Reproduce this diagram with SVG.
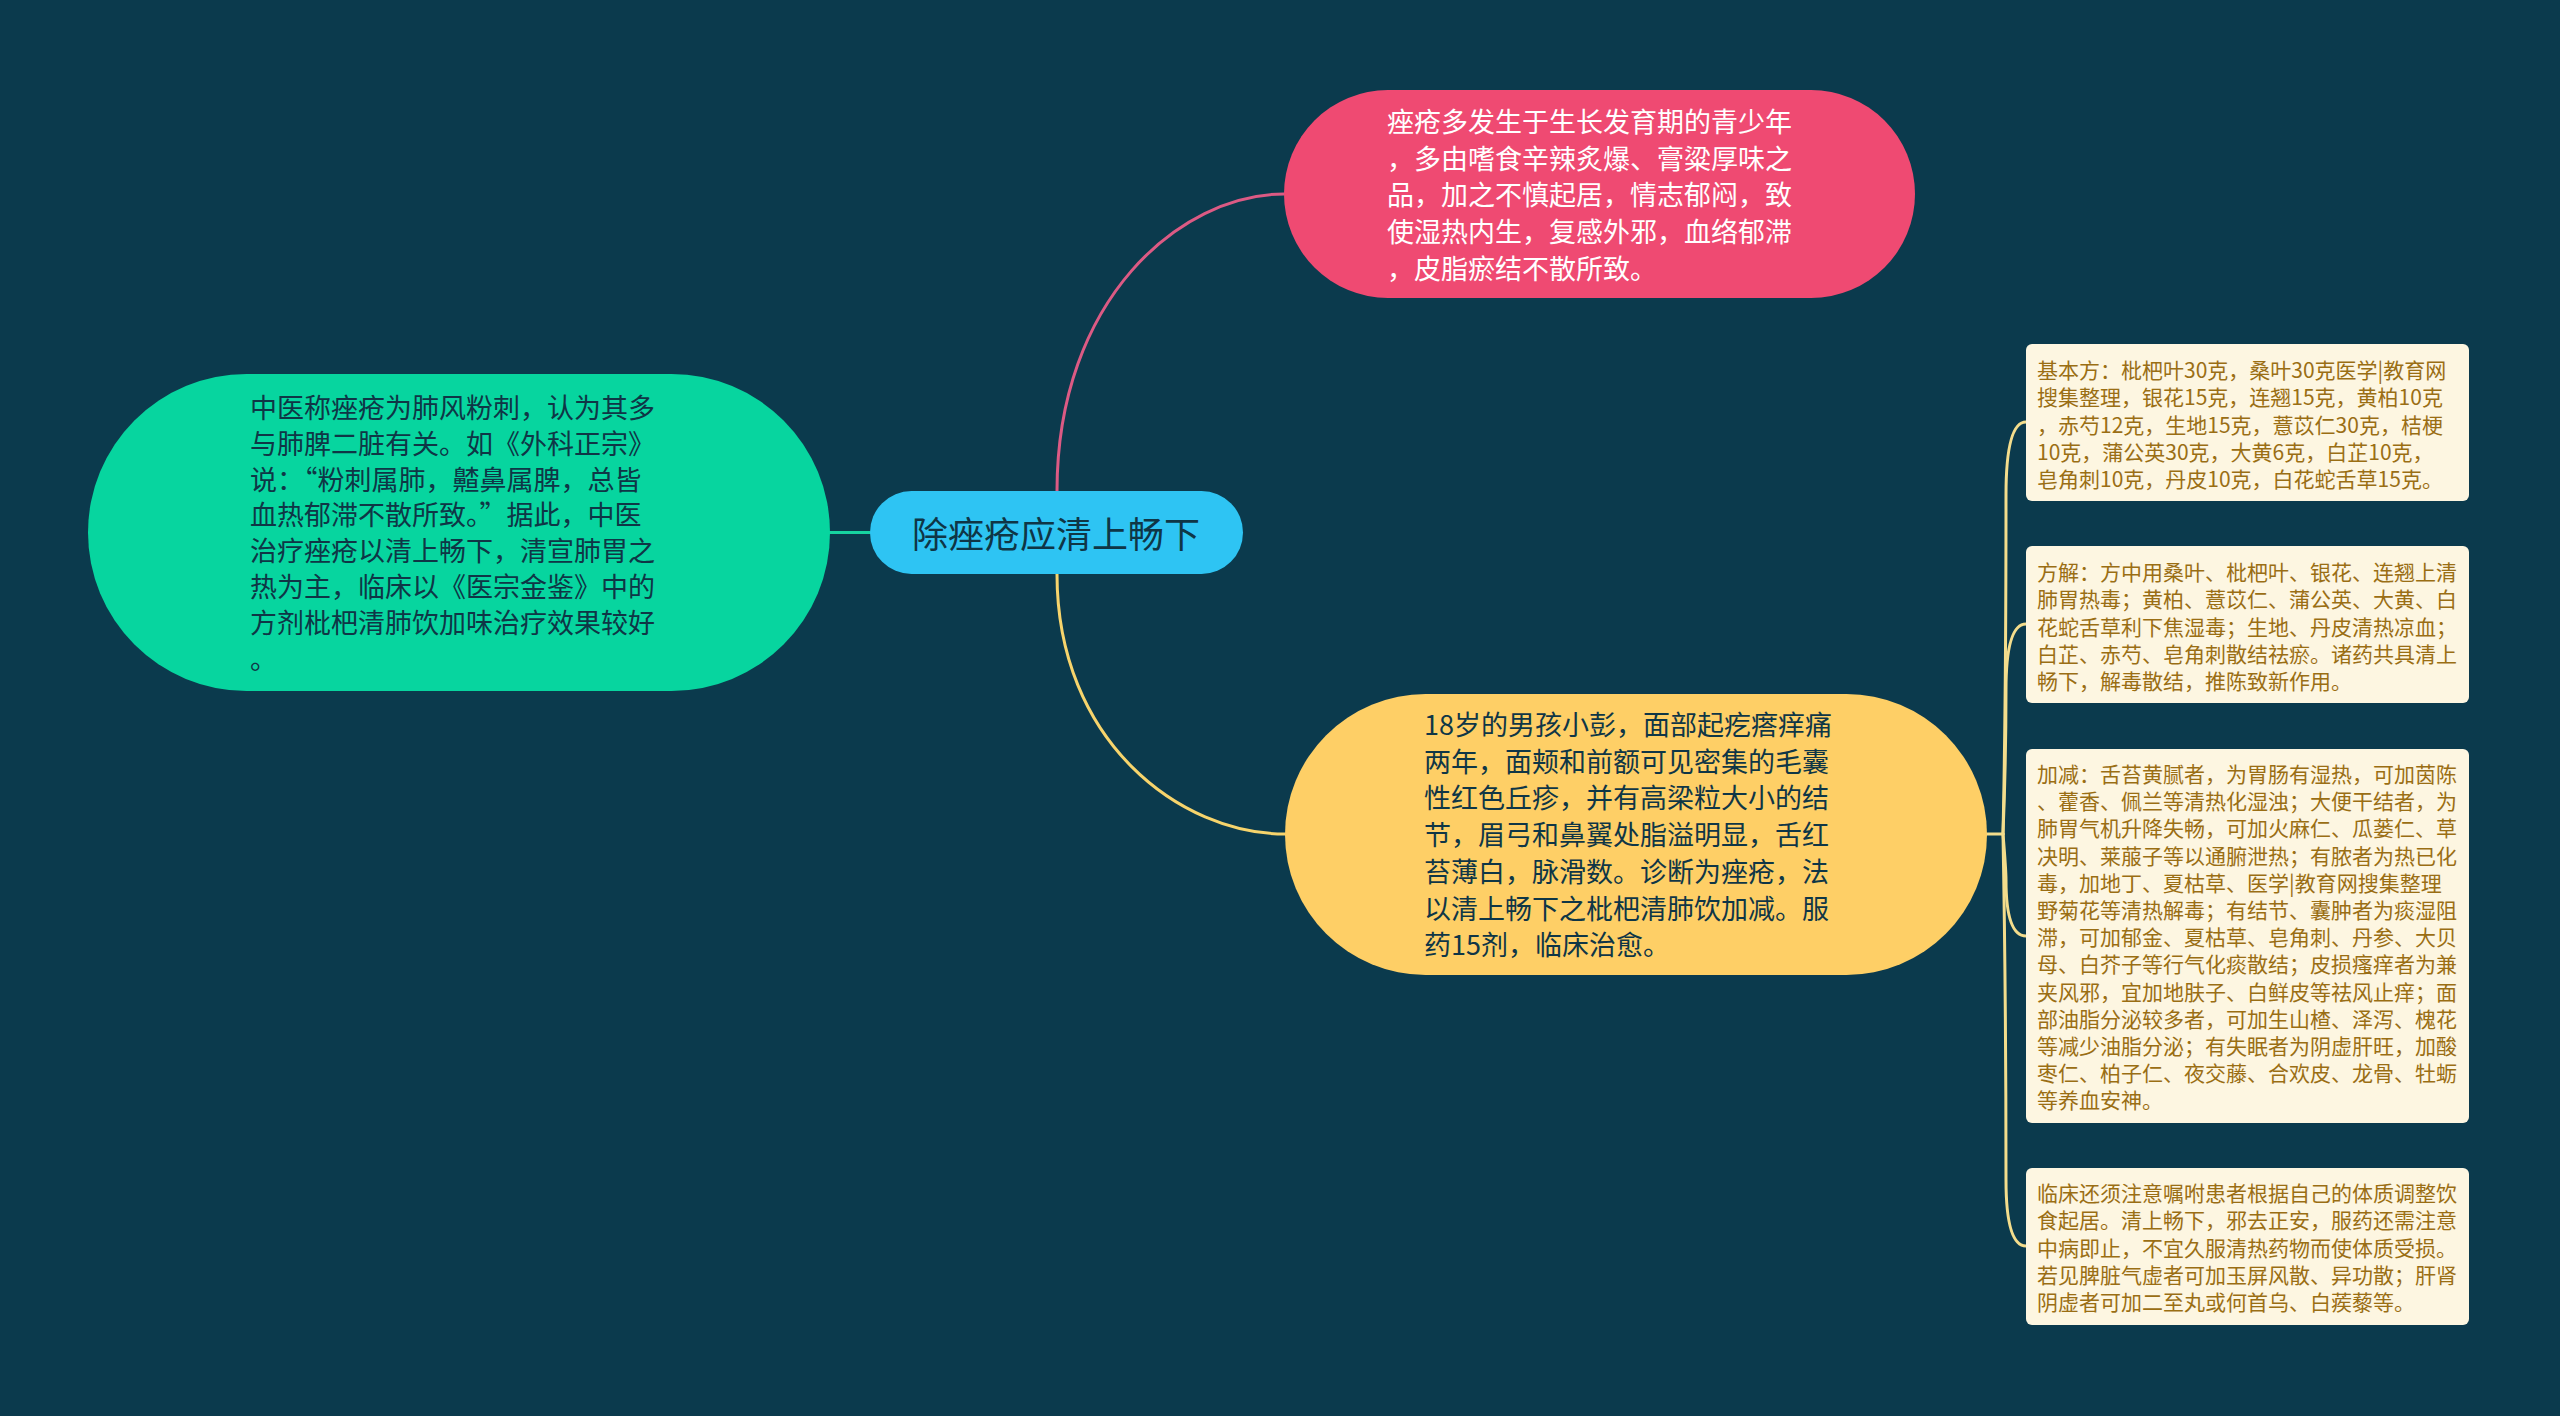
<svg xmlns="http://www.w3.org/2000/svg" width="2560" height="1416" viewBox="0 0 2560 1416">
<style>
.t{font-family:"Noto Sans CJK SC","Noto Sans",sans-serif}
.dark{fill:#0F3646}
.big{font-size:27px}
.small{font-size:21px;fill:#9A6E14}
.box{fill:#FDF6E1}
.conn{fill:none;stroke-width:3;stroke-linecap:round}
</style>
<rect width="2560" height="1416" fill="#0B3A4D"/>
<g id="connectors">
  <path class="conn" stroke="#17D3A0" d="M828,532.5 L870,532.5"/>
  <path class="conn" stroke="#DC5A84" d="M1057,491 C1057,300 1180,194 1284,194"/>
  <path class="conn" stroke="#F7D46C" d="M1057,574 C1057,741 1180,834 1285,834"/>
  <g stroke="#F4DD8C" class="conn">
    <path d="M1987,834 L2003,834"/>
    <path d="M2003,834 C2006,700 2006,560 2006,495 Q2006,422 2026,422"/>
    <path d="M2003,834 C2006,760 2006,720 2006,690 Q2006,624 2026,624"/>
    <path d="M2003,834 C2006,870 2006,880 2006,880 Q2006,936 2026,936"/>
    <path d="M2003,834 C2006,1000 2006,1120 2006,1180 Q2006,1246 2026,1246"/>
  </g>
</g>
<g id="root">
  <rect x="870" y="491" width="373" height="83" rx="41.5" fill="#2EC4F3"/>
  <text class="t dark" x="1056" y="548" font-size="36" text-anchor="middle">除痤疮应清上畅下</text>
</g>
<g id="pink">
  <rect x="1284" y="90" width="631" height="208" rx="104" fill="#EF4A72"/>
  <text class="t big" fill="#FFFFFF">
    <tspan x="1387" y="132">痤疮多发生于生长发育期的青少年</tspan>
    <tspan x="1387" y="168.7">，多由嗜食辛辣炙爆、膏粱厚味之</tspan>
    <tspan x="1387" y="205.4">品，加之不慎起居，情志郁闷，致</tspan>
    <tspan x="1387" y="242.1">使湿热内生，复感外邪，血络郁滞</tspan>
    <tspan x="1387" y="278.8">，皮脂瘀结不散所致。</tspan>
  </text>
</g>
<g id="green">
  <rect x="88" y="374" width="742" height="317" rx="158.5" fill="#07D59F"/>
  <text class="t big dark">
    <tspan x="250" y="418">中医称痤疮为肺风粉刺，认为其多</tspan>
    <tspan x="250" y="453.8">与肺脾二脏有关。如《外科正宗》</tspan>
    <tspan x="250" y="489.6">说：“粉刺属肺，齄鼻属脾，总皆</tspan>
    <tspan x="250" y="525.4">血热郁滞不散所致。”据此，中医</tspan>
    <tspan x="250" y="561.2">治疗痤疮以清上畅下，清宣肺胃之</tspan>
    <tspan x="250" y="597">热为主，临床以《医宗金鉴》中的</tspan>
    <tspan x="250" y="632.8">方剂枇杷清肺饮加味治疗效果较好</tspan>
    <tspan x="250" y="669">。</tspan>
  </text>
</g>
<g id="yellow">
  <rect x="1285" y="694" width="702" height="281" rx="140.5" fill="#FECF66"/>
  <text class="t big dark">
    <tspan x="1424" y="735">18岁的男孩小彭，面部起疙瘩痒痛</tspan>
    <tspan x="1424" y="771.7">两年，面颊和前额可见密集的毛囊</tspan>
    <tspan x="1424" y="808.4">性红色丘疹，并有高梁粒大小的结</tspan>
    <tspan x="1424" y="845.1">节，眉弓和鼻翼处脂溢明显，舌红</tspan>
    <tspan x="1424" y="881.8">苔薄白，脉滑数。诊断为痤疮，法</tspan>
    <tspan x="1424" y="918.5">以清上畅下之枇杷清肺饮加减。服</tspan>
    <tspan x="1424" y="955.2">药15剂，临床治愈。</tspan>
  </text>
</g>
<g id="box1">
  <rect class="box" x="2026" y="344" width="443" height="157" rx="6"/>
  <text class="t small">
    <tspan x="2037" y="378">基本方：枇杷叶30克，桑叶30克医学|教育网</tspan>
    <tspan x="2037" y="405.3">搜集整理，银花15克，连翘15克，黄柏10克</tspan>
    <tspan x="2037" y="432.6">，赤芍12克，生地15克，薏苡仁30克，桔梗</tspan>
    <tspan x="2037" y="459.9">10克，蒲公英30克，大黄6克，白芷10克，</tspan>
    <tspan x="2037" y="487.2">皂角刺10克，丹皮10克，白花蛇舌草15克。</tspan>
  </text>
</g>
<g id="box2">
  <rect class="box" x="2026" y="546" width="443" height="157" rx="6"/>
  <text class="t small">
    <tspan x="2037" y="580">方解：方中用桑叶、枇杷叶、银花、连翘上清</tspan>
    <tspan x="2037" y="607.3">肺胃热毒；黄柏、薏苡仁、蒲公英、大黄、白</tspan>
    <tspan x="2037" y="634.6">花蛇舌草利下焦湿毒；生地、丹皮清热凉血；</tspan>
    <tspan x="2037" y="661.9">白芷、赤芍、皂角刺散结祛瘀。诸药共具清上</tspan>
    <tspan x="2037" y="689.2">畅下，解毒散结，推陈致新作用。</tspan>
  </text>
</g>
<g id="box3">
  <rect class="box" x="2026" y="749" width="443" height="374" rx="6"/>
  <text class="t small">
    <tspan x="2037" y="782">加减：舌苔黄腻者，为胃肠有湿热，可加茵陈</tspan>
    <tspan x="2037" y="809.2">、藿香、佩兰等清热化湿浊；大便干结者，为</tspan>
    <tspan x="2037" y="836.4">肺胃气机升降失畅，可加火麻仁、瓜蒌仁、草</tspan>
    <tspan x="2037" y="863.6">决明、莱菔子等以通腑泄热；有脓者为热已化</tspan>
    <tspan x="2037" y="890.8">毒，加地丁、夏枯草、医学|教育网搜集整理</tspan>
    <tspan x="2037" y="918">野菊花等清热解毒；有结节、囊肿者为痰湿阻</tspan>
    <tspan x="2037" y="945.2">滞，可加郁金、夏枯草、皂角刺、丹参、大贝</tspan>
    <tspan x="2037" y="972.4">母、白芥子等行气化痰散结；皮损瘙痒者为兼</tspan>
    <tspan x="2037" y="999.6">夹风邪，宜加地肤子、白鲜皮等祛风止痒；面</tspan>
    <tspan x="2037" y="1026.8">部油脂分泌较多者，可加生山楂、泽泻、槐花</tspan>
    <tspan x="2037" y="1054">等减少油脂分泌；有失眠者为阴虚肝旺，加酸</tspan>
    <tspan x="2037" y="1081.2">枣仁、柏子仁、夜交藤、合欢皮、龙骨、牡蛎</tspan>
    <tspan x="2037" y="1108.4">等养血安神。</tspan>
  </text>
</g>
<g id="box4">
  <rect class="box" x="2026" y="1168" width="443" height="157" rx="6"/>
  <text class="t small">
    <tspan x="2037" y="1201">临床还须注意嘱咐患者根据自己的体质调整饮</tspan>
    <tspan x="2037" y="1228.3">食起居。清上畅下，邪去正安，服药还需注意</tspan>
    <tspan x="2037" y="1255.6">中病即止，不宜久服清热药物而使体质受损。</tspan>
    <tspan x="2037" y="1282.9">若见脾脏气虚者可加玉屏风散、异功散；肝肾</tspan>
    <tspan x="2037" y="1310.2">阴虚者可加二至丸或何首乌、白蒺藜等。</tspan>
  </text>
</g>
</svg>
